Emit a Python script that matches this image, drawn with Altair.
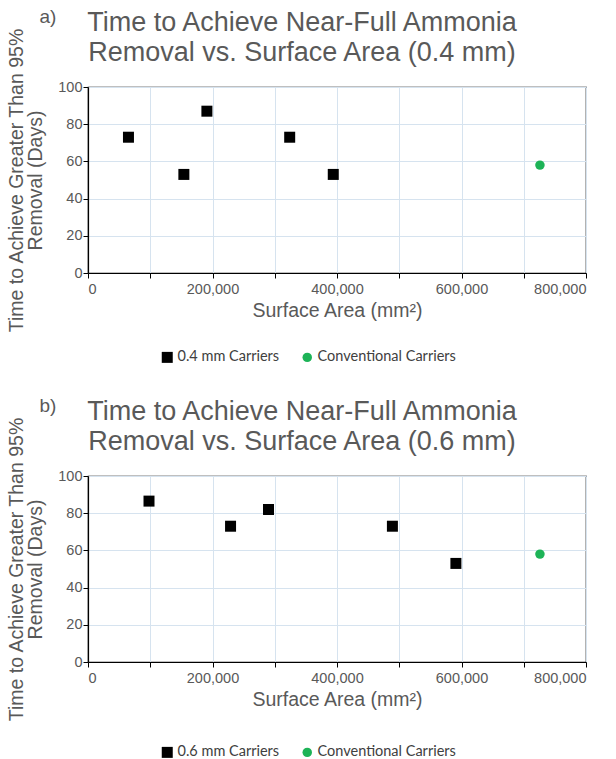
import altair as alt
import pandas as pd

# ---- data ----
a_carrier_x = [65000, 154000, 191000, 324000, 394000]
a_carrier_y = [73, 53, 87, 73, 53]
b_carrier_x = [98000, 229000, 290000, 489000, 591000]
b_carrier_y = [86.5, 73, 82, 73, 53]
conv_x = [726000]
conv_y = [58]

x_ticks = [0, 100000, 200000, 300000, 400000, 500000, 600000, 700000, 800000]
y_ticks = [0, 20, 40, 60, 80, 100]

GRAY = "#595959"
FONT = "Liberation Sans"
GREEN = "#1DB357"


def panel(letter, size_label, cx, cy, legend_y):
    series_name = f"{size_label} mm Carriers"
    df = pd.DataFrame({
        "x": cx + conv_x,
        "y": cy + conv_y,
        "series": [series_name] * len(cx) + ["Conventional Carriers"] * len(conv_x),
    })
    domain = [series_name, "Conventional Carriers"]
    leg = alt.Legend(title=None, orient="none", direction="horizontal",
                     legendX=72, legendY=legend_y)
    pts = alt.Chart(df).mark_point(filled=True, opacity=1).encode(
        x=alt.X("x:Q", scale=alt.Scale(domain=[0, 800000], nice=False),
                axis=alt.Axis(values=x_ticks,
                              labelExpr="datum.value % 200000 === 0 ? format(datum.value, ',') : ''",
                              title="Surface Area (mm²)")),
        y=alt.Y("y:Q", scale=alt.Scale(domain=[0, 100], nice=False),
                axis=alt.Axis(values=y_ticks,
                              title=["Time to Achieve Greater Than 95%", "Removal (Days)"])),
        color=alt.Color("series:N", scale=alt.Scale(domain=domain, range=["black", GREEN]),
                        legend=leg),
        shape=alt.Shape("series:N", scale=alt.Scale(domain=domain, range=["square", "circle"]),
                        legend=leg),
        size=alt.Size("series:N", scale=alt.Scale(domain=domain, range=[121, 90]), legend=None),
    )
    lbl = alt.Chart(pd.DataFrame({"t": [letter]})).mark_text(
        font=FONT, fontSize=19, color=GRAY, align="center", baseline="middle"
    ).encode(text="t:N", x=alt.value(-40), y=alt.value(-70))
    ttl = alt.Chart(pd.DataFrame({
        "t": [f"Time to Achieve Near-Full Ammonia\nRemoval vs. Surface Area ({size_label} mm)"]
    })).mark_text(
        font=FONT, fontSize=27, color=GRAY, align="center", baseline="alphabetic",
        lineBreak="\n", lineHeight=30,
    ).encode(text="t:N", x=alt.value(214), y=alt.value(-56))
    return alt.layer(pts, lbl, ttl).properties(width=498, height=186)


chart = alt.vconcat(
    panel("a)", "0.4", a_carrier_x, a_carrier_y, 263),
    panel("b)", "0.6", b_carrier_x, b_carrier_y, 269),
    spacing=31,
).resolve_scale(
    color="independent", shape="independent", size="independent",
).resolve_legend(
    color="independent", shape="independent",
).properties(
    padding={"left": 6, "top": 7, "right": 0, "bottom": 0},
    background="white",
).configure_view(
    stroke="black", strokeWidth=1.2,
).configure_axis(
    domainColor="black", domainWidth=1.2,
    tickColor="black", tickSize=5,
    gridColor="#d6e3ef", gridWidth=1,
    labelFont=FONT, labelFontSize=14.5, labelColor=GRAY,
    titleFont=FONT, titleFontSize=19.5, titleColor=GRAY, titleFontWeight="normal",
    titleLineHeight=19,
).configure_axisY(
    labelPadding=1, titlePadding=12,
).configure_axisX(
    labelPadding=4, titlePadding=6,
).configure_legend(
    labelFont="Lato", labelFontSize=14.5, labelColor="#404040", labelOffset=3,
    symbolSize=40, columnPadding=20, symbolStrokeWidth=0,
)

chart.save("out.html", embed_options={"renderer": "svg", "actions": False})
